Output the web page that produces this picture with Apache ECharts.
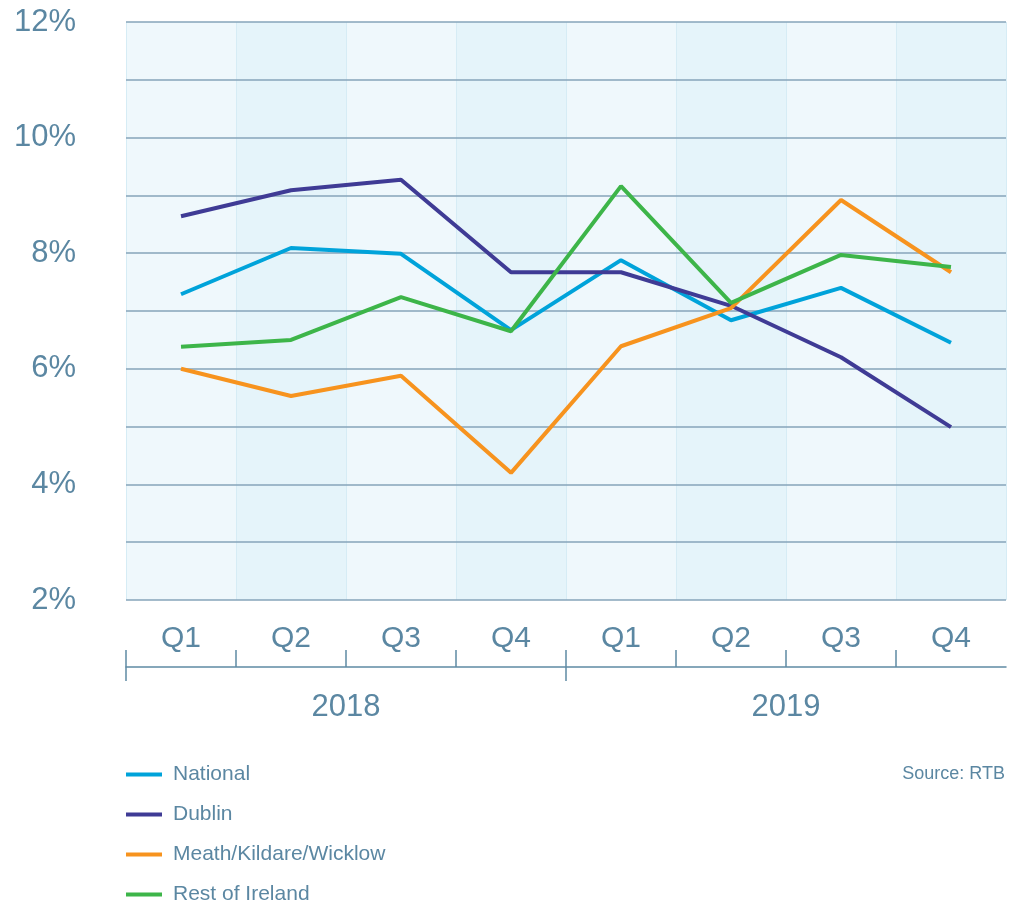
<!DOCTYPE html>
<html>
<head>
<meta charset="utf-8">
<script src="https://cdn.jsdelivr.net/npm/echarts@6/dist/echarts.min.js"></script>
<style>
html, body { margin: 0; padding: 0; background: #fff; }
#chart { width: 1011px; height: 904px; }
</style>
</head>
<body>
<div id="chart"></div>
<script>
var QUARTERS = ['Q1', 'Q2', 'Q3', 'Q4', 'Q1', 'Q2', 'Q3', 'Q4'];
var YEARS = ['2018', '2019'];

var national = [7.29, 8.09, 7.99, 6.67, 7.88, 6.84, 7.40, 6.45];
var dublin = [8.64, 9.09, 9.27, 7.67, 7.67, 7.09, 6.20, 4.99];
var meath = [6.00, 5.53, 5.88, 4.20, 6.39, 7.05, 8.92, 7.67];
var restOfIreland = [6.38, 6.50, 7.24, 6.65, 9.16, 7.14, 7.97, 7.76];

var TEXT_COLOR = '#5b87a2';
var AXIS_COLOR = '#5f8aa4';
var FONT = 'Liberation Sans, Arial, sans-serif';

var chart = echarts.init(document.getElementById('chart'));

function makeLine(name, data, color) {
    return {
        type: 'line',
        name: name,
        data: data,
        xAxisIndex: 0,
        showSymbol: false,
        symbol: 'none',
        lineStyle: { width: 4, color: color },
        itemStyle: { color: color },
        z: 5
    };
}

// bottom axis is a 0..8 value scale so ticks can sit on quarter boundaries
var quarterTicks = [0, 1, 2, 3, 4, 5, 6, 7];
var yearTicks = [0, 4];
var yearLabelPos = [2, 6];

var option = {
    animation: false,
    backgroundColor: '#fff',
    textStyle: { fontFamily: FONT },
    grid: { left: 126, right: 5, top: 22, bottom: 304 },
    legend: {
        orient: 'vertical',
        left: 126,
        top: 764,
        height: 160,
        padding: 0,
        itemWidth: 36,
        itemHeight: 4,
        itemGap: 19,
        icon: 'rect',
        textStyle: { color: TEXT_COLOR, fontSize: 21, fontFamily: FONT, padding: [0, 0, 0, 6] },
        data: ['National', 'Dublin', 'Meath/Kildare/Wicklow', 'Rest of Ireland']
    },
    graphic: [{
        type: 'text',
        right: 6,
        top: 765,
        style: { text: 'Source: RTB', fill: TEXT_COLOR, font: '18px ' + FONT }
    }],
    xAxis: [{
        type: 'category',
        data: QUARTERS,
        boundaryGap: true,
        z: 0,
        axisLine: { show: false },
        axisTick: { show: false },
        axisLabel: { color: TEXT_COLOR, fontSize: 30, margin: 24, fontFamily: FONT },
        splitLine: { show: true, lineStyle: { color: '#d6ecf5', width: 1 } },
        splitArea: { show: true, areaStyle: { color: ['#eff8fc', '#e5f4fa'] } }
    }, {
        type: 'value',
        min: 0,
        max: 8,
        position: 'bottom',
        offset: 67,
        splitLine: { show: false },
        axisLine: { show: true, lineStyle: { color: AXIS_COLOR, width: 1.5 } },
        axisTick: { show: true, inside: true, length: 17, customValues: quarterTicks, lineStyle: { color: AXIS_COLOR, width: 1.5 } },
        axisLabel: { show: false }
    }, {
        type: 'value',
        min: 0,
        max: 8,
        position: 'bottom',
        offset: 67,
        splitLine: { show: false },
        axisLine: { show: false },
        axisTick: { show: true, length: 14, customValues: yearTicks, lineStyle: { color: AXIS_COLOR, width: 1.5 } },
        axisLabel: {
            show: true,
            customValues: yearLabelPos,
            color: TEXT_COLOR,
            fontSize: 31,
            margin: 25,
            fontFamily: FONT,
            formatter: function (v) { return YEARS[yearLabelPos.indexOf(v)] || ''; }
        }
    }],
    yAxis: {
        type: 'value',
        min: 2,
        max: 12,
        interval: 1,
        z: 2,
        axisLine: { show: false },
        axisTick: { show: false },
        axisLabel: {
            color: TEXT_COLOR,
            fontSize: 31,
            margin: 50,
            padding: [6, 0, 0, 0],
            fontFamily: FONT,
            formatter: function (v) { return v % 2 === 0 ? v + '%' : ''; }
        },
        splitLine: { show: true, lineStyle: { color: '#86a5ba', width: 1.5 } }
    },
    series: [
        makeLine('National', national, '#00a3da'),
        makeLine('Dublin', dublin, '#3f3b95'),
        makeLine('Meath/Kildare/Wicklow', meath, '#f7931e'),
        makeLine('Rest of Ireland', restOfIreland, '#3db549')
    ]
};

chart.setOption(option);
</script>
</body>
</html>
